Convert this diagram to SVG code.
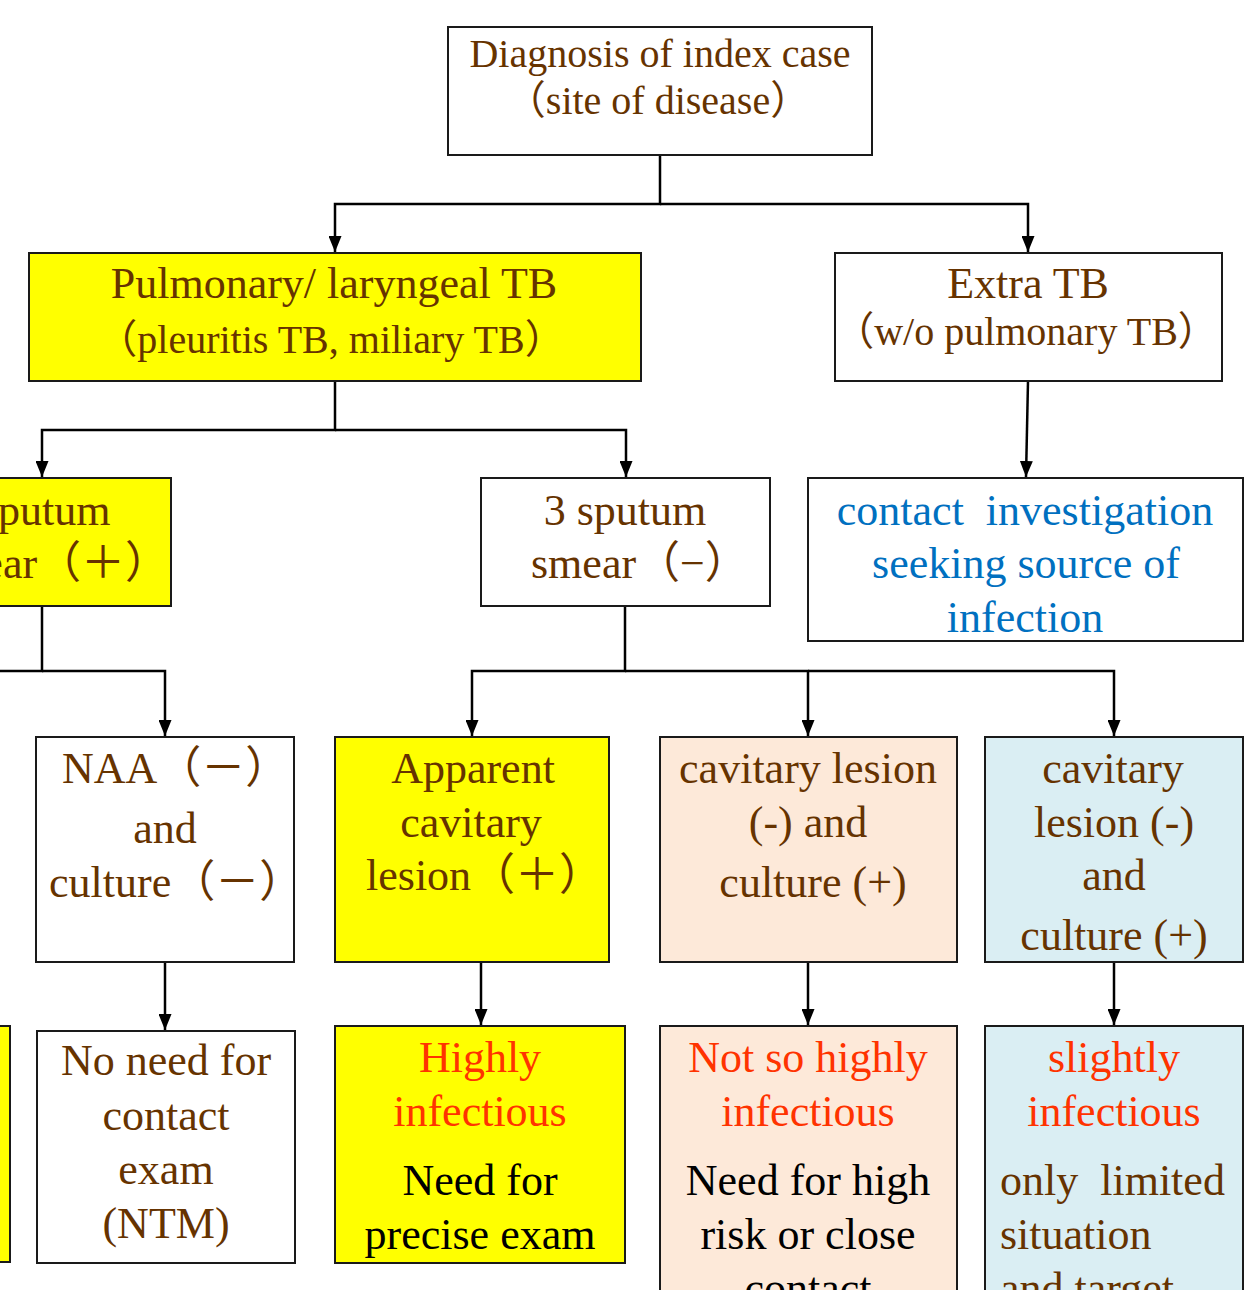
<svg xmlns="http://www.w3.org/2000/svg" width="1250" height="1290" viewBox="0 0 1250 1290">
  <defs>
    <marker id="arrow" markerUnits="userSpaceOnUse" markerWidth="16" markerHeight="13" refX="16" refY="6.5" orient="auto" viewBox="0 0 16 13">
      <path d="M0,0 L16,6.5 L0,13 Z" fill="#000"/>
    </marker>
    <style>
      .box { stroke: #1a1a1a; stroke-width: 2; }
      .white { fill: #ffffff; }
      .yellow { fill: #ffff00; }
      .peach { fill: #fde9d9; }
      .sky { fill: #daeef3; }
      .t { font-family: "Liberation Serif", "Noto Sans CJK SC", serif; font-size: 44px; text-anchor: middle; fill: #663300; }
      .sm { font-size: 40px; }
      .red { fill: #ff3300; }
      .black { fill: #000000; }
      .blue { fill: #0070c0; }
      .left { text-anchor: start; }
      .link { fill: none; stroke: #000; stroke-width: 2.5; }
      .arrowed { marker-end: url(#arrow); }
    </style>
  </defs>

  <rect width="1250" height="1290" fill="#ffffff"/>

  <!-- connectors -->
  <g id="connectors">
    <path class="link arrowed" d="M660,155 V204 H335 V252"/>
    <path class="link arrowed" d="M660,204 H1028 V252"/>
    <path class="link arrowed" d="M335,381 V430 H42 V477"/>
    <path class="link arrowed" d="M335,430 H626 V477"/>
    <path class="link arrowed" d="M1028,381 L1026,477"/>
    <path class="link" d="M42,606 V671 H-40"/>
    <path class="link arrowed" d="M42,671 H165 V736"/>
    <path class="link arrowed" d="M625,606 V671 H472 V736"/>
    <path class="link arrowed" d="M625,671 H808 V736"/>
    <path class="link arrowed" d="M808,671 H1114 V736"/>
    <path class="link arrowed" d="M165,962 V1030"/>
    <path class="link arrowed" d="M481,962 V1025"/>
    <path class="link arrowed" d="M808,962 V1025"/>
    <path class="link arrowed" d="M1114,962 V1025"/>
  </g>

  <!-- level 0 -->
  <g id="index-case">
    <rect class="box white" x="448" y="27" width="424" height="128"/>
    <text class="t sm" x="660" y="67">Diagnosis of index case</text>
    <text class="t sm" x="658" y="114">（site of disease）</text>
  </g>

  <!-- level 1 -->
  <g id="pulmonary-tb">
    <rect class="box yellow" x="29" y="253" width="612" height="128"/>
    <text class="t" x="334" y="298">Pulmonary/ laryngeal TB</text>
    <text class="t sm" x="331" y="353">（pleuritis TB, miliary TB）</text>
  </g>
  <g id="extra-tb">
    <rect class="box white" x="835" y="253" width="387" height="128"/>
    <text class="t" x="1028" y="298">Extra TB</text>
    <text class="t sm" x="1026" y="345">（w/o pulmonary TB）</text>
  </g>

  <!-- level 2 -->
  <g id="smear-positive">
    <rect class="box yellow" x="-90" y="478" width="261" height="128"/>
    <text class="t" x="42" y="525">Sputum</text>
    <text class="t left" x="-68" y="578">smear（＋）</text>
  </g>
  <g id="smear-negative">
    <rect class="box white" x="481" y="478" width="289" height="128"/>
    <text class="t" x="625" y="525">3 sputum</text>
    <text class="t left" x="531" y="578">smear（−）</text>
  </g>
  <g id="contact-investigation">
    <rect class="box white" x="808" y="478" width="435" height="163"/>
    <text class="t blue" x="1025" y="525" xml:space="preserve">contact  investigation</text>
    <text class="t blue" x="1026" y="578">seeking source of</text>
    <text class="t blue" x="1025" y="632">infection</text>
  </g>

  <!-- level 3 -->
  <g id="naa-negative">
    <rect class="box white" x="36" y="737" width="258" height="225"/>
    <text class="t left" x="62" y="783">NAA（－）</text>
    <text class="t" x="165" y="843">and</text>
    <text class="t left" x="49" y="897">culture（－）</text>
  </g>
  <g id="cavity-positive">
    <rect class="box yellow" x="335" y="737" width="274" height="225"/>
    <text class="t" x="473" y="783">Apparent</text>
    <text class="t" x="471" y="837">cavitary</text>
    <text class="t left" x="366" y="890">lesion（＋）</text>
  </g>
  <g id="cavity-negative-a">
    <rect class="box peach" x="660" y="737" width="297" height="225"/>
    <text class="t" x="808" y="783">cavitary lesion</text>
    <text class="t" x="808" y="837">(-) and</text>
    <text class="t" x="813" y="897">culture (+)</text>
  </g>
  <g id="cavity-negative-b">
    <rect class="box sky" x="985" y="737" width="258" height="225"/>
    <text class="t" x="1113" y="783">cavitary</text>
    <text class="t" x="1114" y="837">lesion (-)</text>
    <text class="t" x="1114" y="890">and</text>
    <text class="t" x="1114" y="950">culture (+)</text>
  </g>

  <!-- level 4 -->
  <g id="left-result">
    <rect class="box yellow" x="-200" y="1026" width="210" height="236"/>
  </g>
  <g id="no-contact-exam">
    <rect class="box white" x="37" y="1031" width="258" height="232"/>
    <text class="t" x="166" y="1075">No need for</text>
    <text class="t" x="166" y="1130">contact</text>
    <text class="t" x="166" y="1184">exam</text>
    <text class="t" x="166" y="1238">(NTM)</text>
  </g>
  <g id="highly-infectious">
    <rect class="box yellow" x="335" y="1026" width="290" height="237"/>
    <text class="t red" x="480" y="1072">Highly</text>
    <text class="t red" x="480" y="1126">infectious</text>
    <text class="t black" x="480" y="1195">Need for</text>
    <text class="t black" x="480" y="1249">precise exam</text>
  </g>
  <g id="moderately-infectious">
    <rect class="box peach" x="660" y="1026" width="297" height="280"/>
    <text class="t red" x="808" y="1072">Not so highly</text>
    <text class="t red" x="808" y="1126">infectious</text>
    <text class="t black" x="808" y="1195">Need for high</text>
    <text class="t black" x="808" y="1249">risk or close</text>
    <text class="t black" x="808" y="1303">contact</text>
  </g>
  <g id="slightly-infectious">
    <rect class="box sky" x="985" y="1026" width="258" height="280"/>
    <text class="t red" x="1114" y="1072">slightly</text>
    <text class="t red" x="1114" y="1126">infectious</text>
    <text class="t left" x="1000" y="1195" xml:space="preserve">only  limited</text>
    <text class="t left" x="1000" y="1249">situation</text>
    <text class="t left" x="1000" y="1303">and target</text>
  </g>
</svg>
